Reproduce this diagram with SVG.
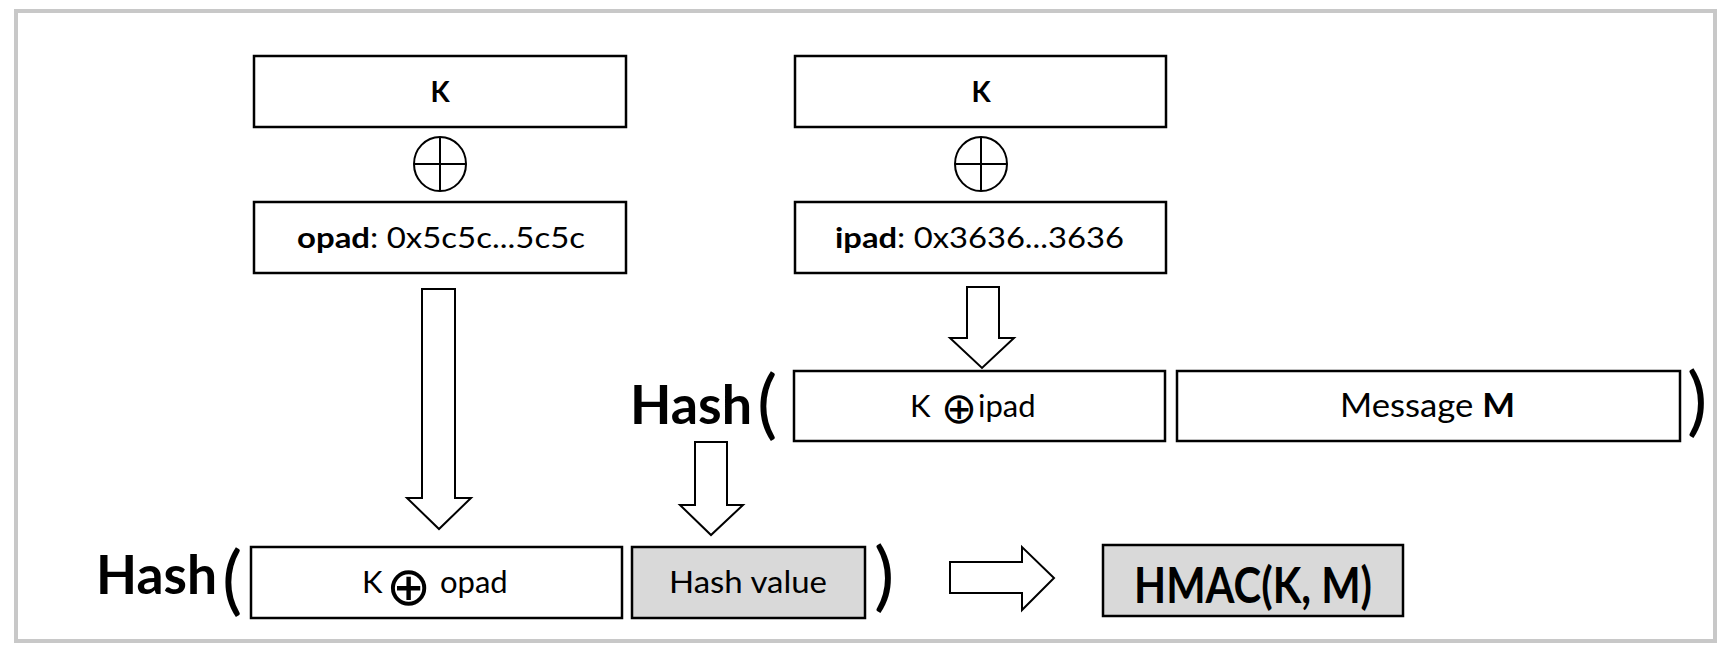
<svg xmlns="http://www.w3.org/2000/svg" width="1727" height="656" viewBox="0 0 1727 656">
<style>
.box{fill:#fff;stroke:#000;stroke-width:2.5}
.gbox{fill:#d9d9d9;stroke:#000;stroke-width:2.5}
.arrow{fill:#fff;stroke:#000;stroke-width:2;stroke-linejoin:miter}
.xor{fill:none;stroke:#000;stroke-width:2}
.t{font-family:Lato,"Open Sans","Liberation Sans",sans-serif;fill:#000}
.b{font-weight:bold}
.sym{font-family:"DejaVu Sans",sans-serif}
.paren{font-family:Lato,"Liberation Sans",sans-serif;font-size:76px}
</style>
<rect x="16" y="11" width="1699" height="630" fill="#fff" stroke="#c8c8c8" stroke-width="4"/>

<g id="connectors">
<path class="arrow" d="M422,289 H455 V498 H471 L439,529 L407,498 H422 Z"/>
<path class="arrow" d="M967,287 H999 V338 H1014 L982,368 L950,338 H967 Z"/>
<path class="arrow" d="M695,442 H727 V505 H743 L711,535 L680,505 H695 Z"/>
<path class="arrow" d="M950,562 H1022 V547 L1054,578 L1022,610 V593 H950 Z"/>
</g>

<g id="k-left">
<rect class="box" x="254" y="56" width="372" height="71"/>
<text class="t b" x="440" y="102" font-size="28" text-anchor="middle">K</text>
</g>
<g id="xor-left">
<ellipse class="xor" cx="440" cy="164" rx="26" ry="27"/>
<path class="xor" d="M414,164 H466 M440,137 V191"/>
</g>
<g id="opad">
<rect class="box" x="254" y="202" width="372" height="71"/>
<text class="t" x="297" y="248" font-size="28" textLength="288" lengthAdjust="spacingAndGlyphs"><tspan class="b">opad</tspan>: 0x5c5c...5c5c</text>
</g>

<g id="k-right">
<rect class="box" x="795" y="56" width="371" height="71"/>
<text class="t b" x="981" y="102" font-size="28" text-anchor="middle">K</text>
</g>
<g id="xor-right">
<ellipse class="xor" cx="981" cy="164" rx="26" ry="27"/>
<path class="xor" d="M955,164 H1007 M981,137 V191"/>
</g>
<g id="ipad">
<rect class="box" x="795" y="202" width="371" height="71"/>
<text class="t" x="835" y="248" font-size="28" textLength="289" lengthAdjust="spacingAndGlyphs"><tspan class="b">ipad</tspan>: 0x3636...3636</text>
</g>

<g id="hash-inner">
<text class="t b" x="630" y="424" font-size="54" textLength="122" lengthAdjust="spacingAndGlyphs">Hash</text>
<text class="paren" x="757" y="430">(</text>
<text class="paren" x="1687" y="427">)</text>
</g>
<g id="k-xor-ipad">
<rect class="box" x="794" y="371" width="371" height="70"/>
<text class="t" y="417" font-size="31"><tspan x="910">K</tspan><tspan class="sym" x="941" y="423" font-size="43">⊕</tspan><tspan x="978" y="417">ipad</tspan></text>
</g>
<g id="message">
<rect class="box" x="1177" y="371" width="503" height="70"/>
<text class="t" x="1340" y="417" font-size="32" textLength="175" lengthAdjust="spacingAndGlyphs">Message <tspan class="b">M</tspan></text>
</g>

<g id="hash-outer">
<text class="t b" x="96" y="594" font-size="54" textLength="121" lengthAdjust="spacingAndGlyphs">Hash</text>
<text class="paren" x="222" y="606">(</text>
<text class="paren" x="874" y="602">)</text>
</g>
<g id="k-xor-opad">
<rect class="box" x="251" y="547" width="371" height="71"/>
<text class="t" y="593" font-size="31"><tspan x="362">K</tspan><tspan class="sym" x="386" y="605" font-size="54">⊕</tspan><tspan x="440" y="593">opad</tspan></text>
</g>
<g id="hash-value">
<rect class="gbox" x="632" y="547" width="233" height="71"/>
<text class="t" x="669" y="593" font-size="31" textLength="158" lengthAdjust="spacingAndGlyphs">Hash value</text>
</g>
<g id="hmac">
<rect class="gbox" x="1103" y="545" width="300" height="71"/>
<text class="t b" x="1134" y="603" font-size="50" textLength="238" lengthAdjust="spacingAndGlyphs">HMAC(K, M)</text>
</g>
</svg>
